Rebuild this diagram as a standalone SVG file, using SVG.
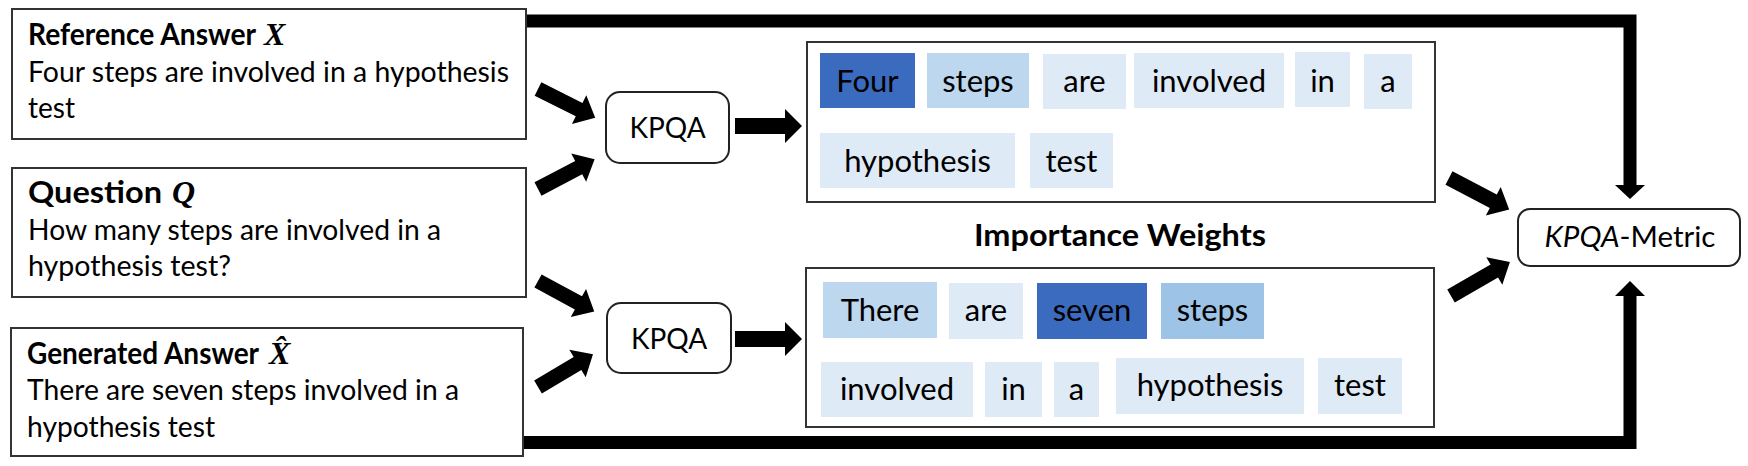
<svg xmlns="http://www.w3.org/2000/svg" width="1748" height="466" viewBox="0 0 1748 466">
<style>
.box{fill:#fff;stroke:#333;stroke-width:2}
.rbox{fill:#fff;stroke:#222;stroke-width:2}
.t{font-family:Lato,"Liberation Sans",sans-serif;font-size:29.5px;fill:#000}
.b{font-family:Lato,"Liberation Sans",sans-serif;font-size:29.5px;font-weight:bold;fill:#000}
.m{font-family:"Liberation Serif",serif;font-size:32px;font-weight:bold;font-style:italic;fill:#000}
.w{font-family:Lato,"Liberation Sans",sans-serif;font-size:31px;fill:#000;text-anchor:middle}
.k{font-family:Lato,"Liberation Sans",sans-serif;font-size:28px;fill:#000;text-anchor:middle}
.d{fill:#3A6BBE}
.l{fill:#DEEAF6}
.s{fill:#BDD7EE}
.s2{fill:#9DC3E6}
.arr{fill:#000}
.line{fill:none;stroke:#000;stroke-width:13}
</style>
<defs>
<polygon id="ad" points="0,-7.5 46,-7.5 46,-16 64,0 46,16 46,7.5 0,7.5"/>
<polygon id="am" points="0,-7.5 50,-7.5 50,-16 68,0 50,16 50,7.5 0,7.5"/>
<polygon id="ah" points="0,-8 50,-8 50,-17 67,0 50,17 50,8 0,8"/>
</defs>

<g id="connectors">
<path class="line" d="M526,21 H1630 V186"/>
<polygon class="arr" points="1615,185 1645,185 1630,199"/>
<path class="line" d="M523,442.5 H1630 V295"/>
<polygon class="arr" points="1615,296 1645,296 1630,281"/>
<use href="#ad" class="arr" transform="translate(538,89) rotate(26.6)"/>
<use href="#ad" class="arr" transform="translate(538,189) rotate(-27.8)"/>
<use href="#ad" class="arr" transform="translate(538,281) rotate(28.5)"/>
<use href="#ad" class="arr" transform="translate(538,387) rotate(-30.8)"/>
<use href="#ah" class="arr" transform="translate(735,126)"/>
<use href="#ah" class="arr" transform="translate(735,339)"/>
<use href="#am" class="arr" transform="translate(1449,178) rotate(27.7)"/>
<use href="#am" class="arr" transform="translate(1451,296) rotate(-30)"/>
</g>

<g id="reference">
<rect class="box" x="12" y="9" width="514" height="130"/>
<text class="b" x="28" y="45" textLength="228" lengthAdjust="spacingAndGlyphs">Reference Answer</text>
<text class="m" x="264" y="45">X</text>
<text class="t" x="28" y="81.5" textLength="481" lengthAdjust="spacingAndGlyphs">Four steps are involved in a hypothesis</text>
<text class="t" x="28" y="118" textLength="47" lengthAdjust="spacingAndGlyphs">test</text>
</g>

<g id="question">
<rect class="box" x="12" y="168" width="514" height="129"/>
<text class="b" x="28" y="203" textLength="134" lengthAdjust="spacingAndGlyphs">Question</text>
<text class="m" x="172" y="203">Q</text>
<text class="t" x="28" y="239.5" textLength="413" lengthAdjust="spacingAndGlyphs">How many steps are involved in a</text>
<text class="t" x="28" y="276" textLength="203" lengthAdjust="spacingAndGlyphs">hypothesis test?</text>
</g>

<g id="generated">
<rect class="box" x="11" y="328" width="512" height="128"/>
<text class="b" x="27" y="363.5" textLength="232" lengthAdjust="spacingAndGlyphs">Generated Answer</text>
<text class="m" x="269" y="363.5">X&#x302;</text>
<text class="t" x="27" y="400" textLength="432" lengthAdjust="spacingAndGlyphs">There are seven steps involved in a</text>
<text class="t" x="27" y="436.5" textLength="188" lengthAdjust="spacingAndGlyphs">hypothesis test</text>
</g>

<g id="kpqa1">
<rect class="rbox" x="606" y="92" width="123" height="71" rx="14"/>
<text class="k" x="667.5" y="138">KPQA</text>
</g>

<g id="kpqa2">
<rect class="rbox" x="607" y="303" width="124" height="70" rx="14"/>
<text class="k" x="669" y="349">KPQA</text>
</g>

<g id="weights-ref">
<rect class="box" x="807" y="42" width="628" height="160"/>
<rect class="d" x="820" y="53" width="95" height="55"/><text class="w" x="867.5" y="92">Four</text>
<rect class="s" x="927" y="53" width="102" height="55"/><text class="w" x="978" y="92">steps</text>
<rect class="l" x="1043" y="54" width="83" height="55"/><text class="w" x="1084.5" y="92">are</text>
<rect class="l" x="1134" y="53" width="150" height="55"/><text class="w" x="1209" y="92">involved</text>
<rect class="l" x="1295" y="52" width="55" height="55"/><text class="w" x="1322.5" y="92">in</text>
<rect class="l" x="1364" y="54" width="48" height="55"/><text class="w" x="1388" y="92">a</text>
<rect class="l" x="820" y="133" width="195" height="55"/><text class="w" x="917.5" y="172">hypothesis</text>
<rect class="l" x="1030" y="133" width="83" height="55"/><text class="w" x="1071.5" y="172">test</text>
</g>

<g id="importance-label">
<text class="b" x="1120" y="246" text-anchor="middle" style="font-size:30px" textLength="292" lengthAdjust="spacingAndGlyphs">Importance Weights</text>
</g>

<g id="weights-gen">
<rect class="box" x="806" y="268" width="628" height="159"/>
<rect class="s" x="823" y="282" width="114" height="56"/><text class="w" x="880" y="321">There</text>
<rect class="l" x="949" y="283" width="74" height="56"/><text class="w" x="986" y="321">are</text>
<rect class="d" x="1037" y="283" width="110" height="56"/><text class="w" x="1092" y="321">seven</text>
<rect class="s2" x="1161" y="283" width="103" height="56"/><text class="w" x="1212.5" y="321">steps</text>
<rect class="l" x="821" y="362" width="152" height="55"/><text class="w" x="897" y="400">involved</text>
<rect class="l" x="985" y="362" width="57" height="55"/><text class="w" x="1013.5" y="400">in</text>
<rect class="l" x="1054" y="362" width="45" height="55"/><text class="w" x="1076.5" y="400">a</text>
<rect class="l" x="1116" y="358" width="188" height="56"/><text class="w" x="1210" y="396">hypothesis</text>
<rect class="l" x="1318" y="358" width="84" height="56"/><text class="w" x="1360" y="396">test</text>
</g>

<g id="metric">
<rect class="rbox" x="1518" y="209" width="222" height="57" rx="12"/>
<text class="k" x="1630" y="247" style="font-size:29.5px"><tspan font-style="italic">KPQA</tspan>-Metric</text>
</g>
</svg>
